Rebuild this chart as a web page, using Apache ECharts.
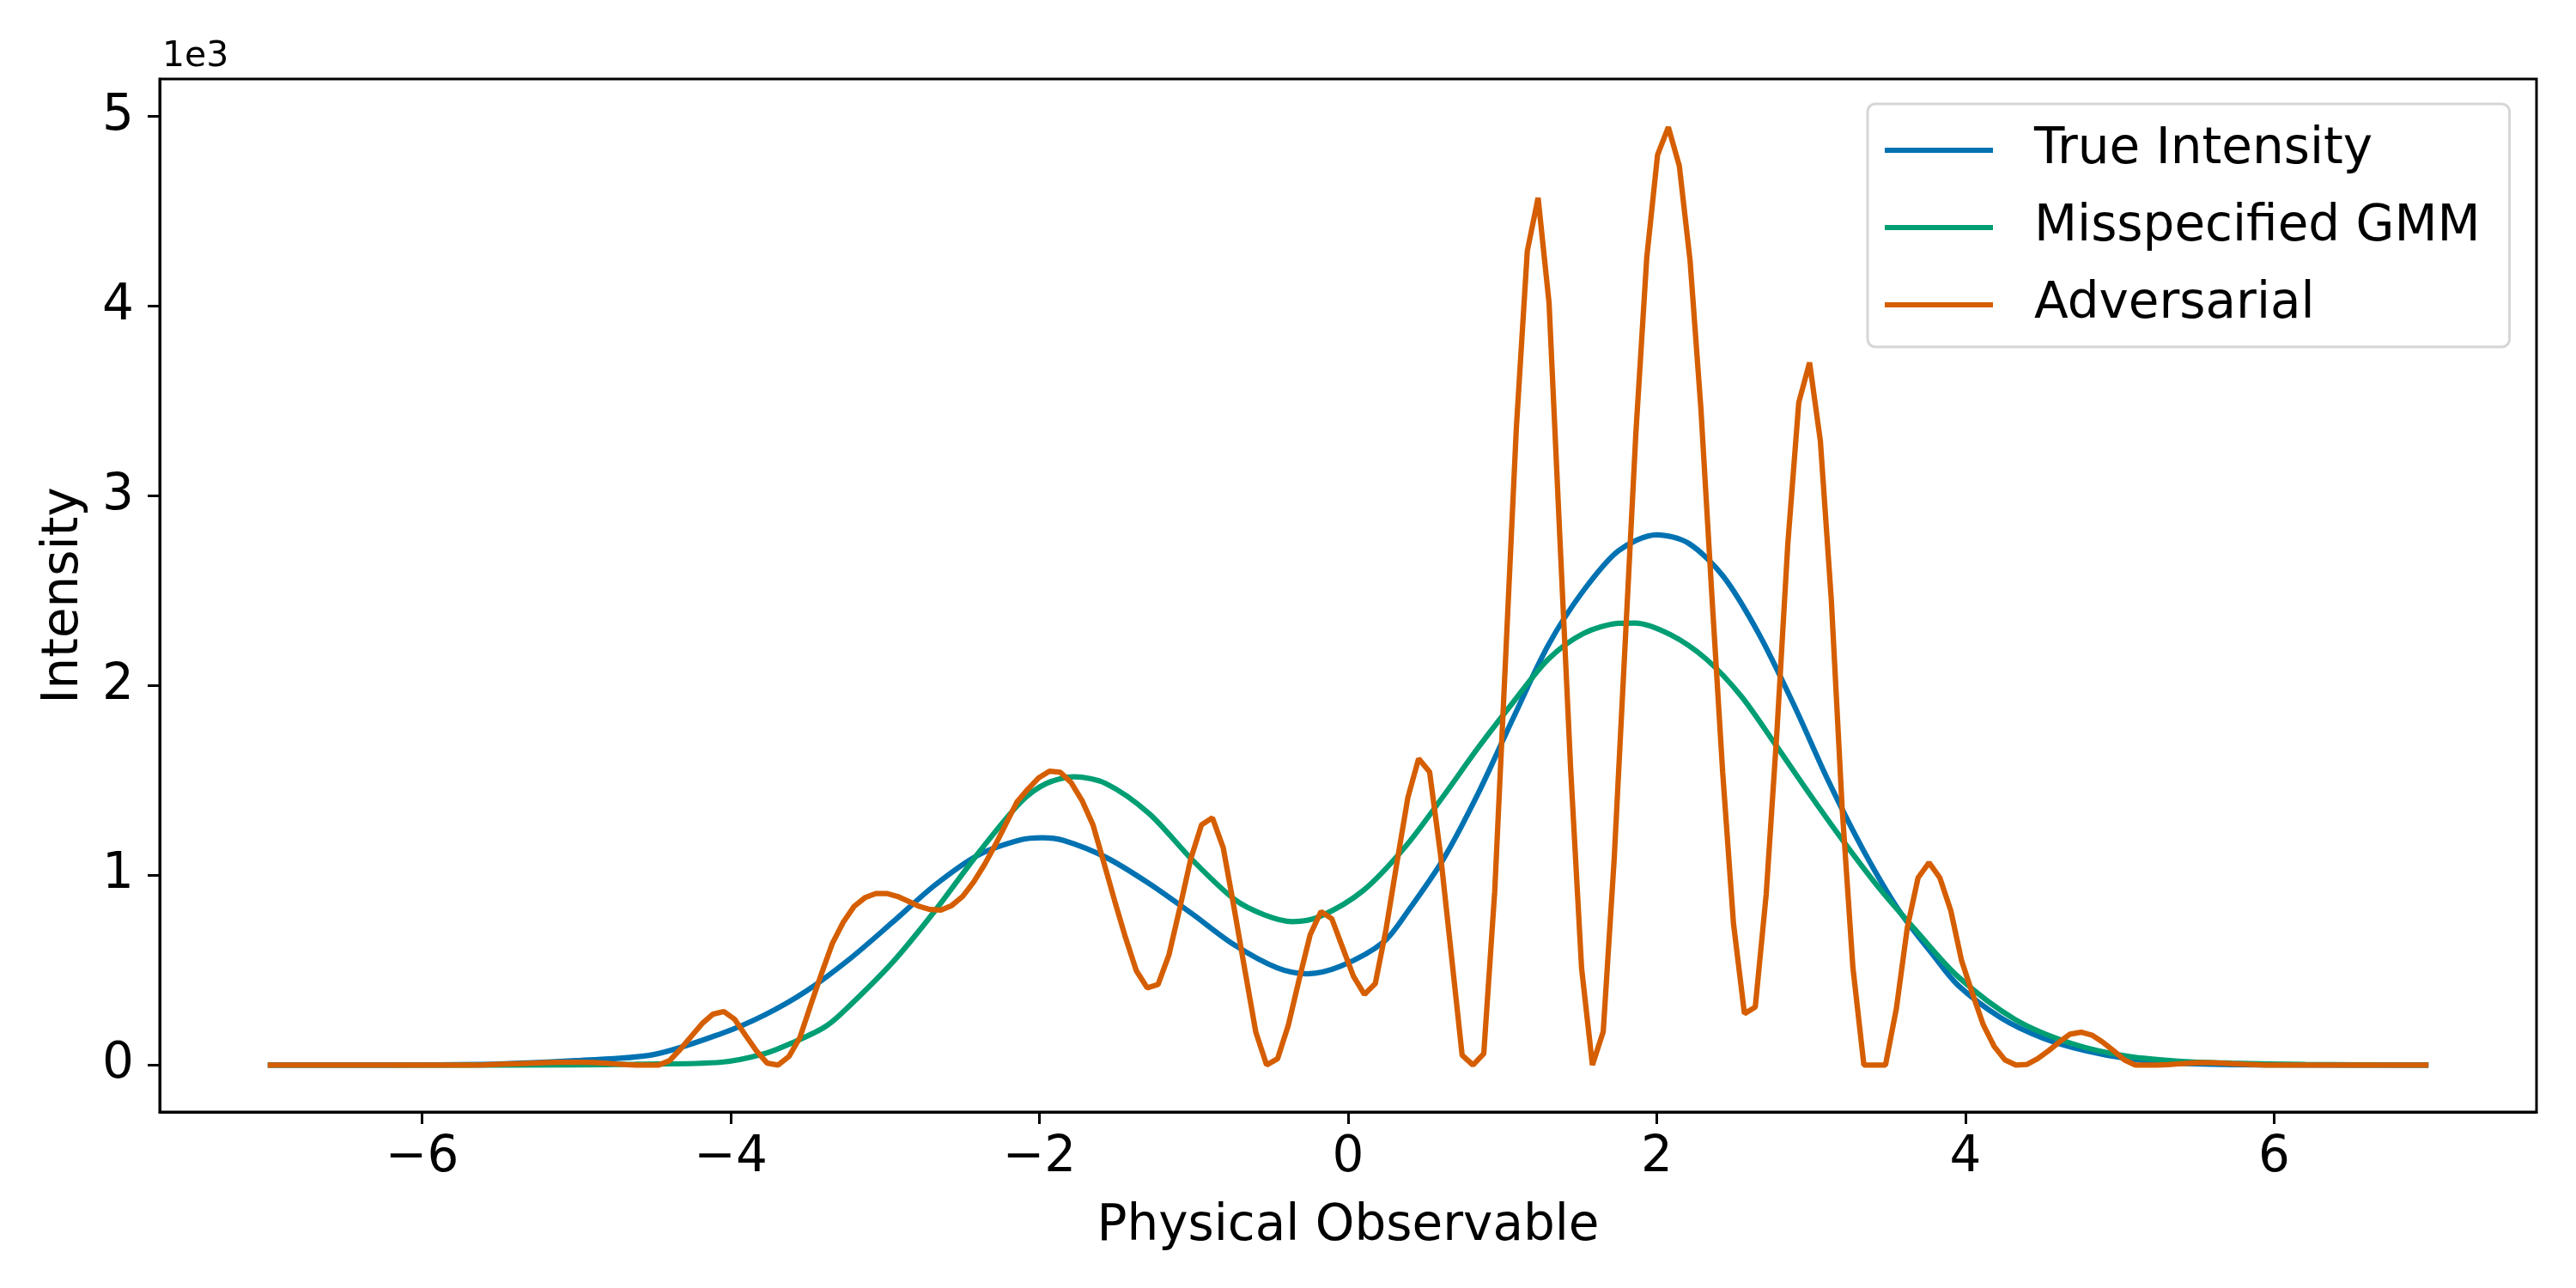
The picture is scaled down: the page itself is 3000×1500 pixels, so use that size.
<!DOCTYPE html>
<html style="height: 100%">
<head>
    <meta charset="utf-8">
</head>
<body style="height: 100%; margin: 0; background: #fff">
<div id="container" style="width: 3000px; height: 1500px"></div>
<script type="text/javascript" src="https://cdn.jsdelivr.net/npm/echarts@6/dist/echarts.min.js"></script>
<script type="text/javascript">
// series names and colours
var seriesNames = ['True Intensity', 'Misspecified GMM', 'Adversarial'];
var seriesColors = ['#0072B2', '#009E73', '#D55E00'];

// tick positions
var xTicks = [-6, -4, -2, 0, 2, 4, 6];
var yTicks = [0, 1000, 2000, 3000, 4000, 5000];

// True Intensity
var trueX = [-7.0, -6.5, -6.0, -5.5, -5.0, -4.5, -4.06, -3.78, -3.51, -3.228, -2.951, -2.676, -2.398, -2.121, -1.983,
    -1.844, -1.57, -1.29, -1.014, -0.737, -0.46, -0.266, -0.044, 0.232, 0.39, 0.617, 0.843, 1.071, 1.298,
    1.525, 1.753, 2.0, 2.206, 2.43, 2.66, 2.888, 3.115, 3.34, 3.57, 3.795, 3.95, 4.23, 4.5, 4.78, 5.06, 5.43, 6.0, 7.0];
var trueY = [0, 0, 1, 5, 23, 55, 166, 264, 390, 560, 753, 949, 1106, 1187, 1198,
    1184, 1095, 957, 799, 633, 512, 481, 522, 650, 814, 1085, 1432, 1831, 2215,
    2501, 2712, 2795, 2750, 2577, 2275, 1899, 1492, 1130, 814, 575, 422, 249, 143, 75, 33, 8, 1, 0];

// Misspecified GMM
var gmmX = [-7, -6, -5, -4.62, -4.06, -3.78, -3.59, -3.4, -3.284, -2.951, -2.676, -2.398, -2.121, -1.955, -1.775,
    -1.57, -1.29, -1.014, -0.737, -0.54, -0.36, -0.18, 0.097, 0.37, 0.617, 0.843, 1.071, 1.298, 1.525, 1.753, 1.86,
    2.09, 2.32, 2.547, 2.77, 3.0, 3.227, 3.455, 3.68, 3.95, 4.32, 4.69, 5.06, 5.43, 5.72, 6.2, 7];
var gmmY = [0, 0, 1, 4, 15, 60, 121, 196, 271, 542, 814, 1115, 1386, 1484, 1519,
    1484, 1326, 1085, 874, 791, 756, 784, 919, 1150, 1417, 1673, 1914, 2140, 2275, 2328, 2330,
    2268, 2140, 1944, 1688, 1417, 1160, 919, 708, 467, 241, 113, 45, 18, 10, 3, 0];

// Adversarial: sampled on 200 points from -7 to 7
var advX = [
    -7.000, -6.930, -6.859, -6.789, -6.719, -6.648, -6.578, -6.508, -6.437, -6.367,
    -6.296, -6.226, -6.156, -6.085, -6.015, -5.945, -5.874, -5.804, -5.734, -5.663,
    -5.593, -5.523, -5.452, -5.382, -5.312, -5.241, -5.171, -5.101, -5.030, -4.960,
    -4.889, -4.819, -4.749, -4.678, -4.608, -4.538, -4.467, -4.397, -4.327, -4.256,
    -4.186, -4.116, -4.045, -3.975, -3.905, -3.834, -3.764, -3.693, -3.623, -3.553,
    -3.482, -3.412, -3.342, -3.271, -3.201, -3.131, -3.060, -2.990, -2.920, -2.849,
    -2.779, -2.709, -2.638, -2.568, -2.497, -2.427, -2.357, -2.286, -2.216, -2.146,
    -2.075, -2.005, -1.935, -1.864, -1.794, -1.724, -1.653, -1.583, -1.513, -1.442,
    -1.372, -1.302, -1.231, -1.161, -1.090, -1.020, -0.950, -0.879, -0.809, -0.739,
    -0.668, -0.598, -0.528, -0.457, -0.387, -0.317, -0.246, -0.176, -0.106, -0.035,
    0.035, 0.106, 0.176, 0.246, 0.317, 0.387, 0.457, 0.528, 0.598, 0.668,
    0.739, 0.809, 0.879, 0.950, 1.020, 1.090, 1.161, 1.231, 1.302, 1.372,
    1.442, 1.513, 1.583, 1.653, 1.724, 1.794, 1.864, 1.935, 2.005, 2.075,
    2.146, 2.216, 2.286, 2.357, 2.427, 2.497, 2.568, 2.638, 2.709, 2.779,
    2.849, 2.920, 2.990, 3.060, 3.131, 3.201, 3.271, 3.342, 3.412, 3.482,
    3.553, 3.623, 3.693, 3.764, 3.834, 3.905, 3.975, 4.045, 4.116, 4.186,
    4.256, 4.327, 4.397, 4.467, 4.538, 4.608, 4.678, 4.749, 4.819, 4.889,
    4.960, 5.030, 5.101, 5.171, 5.241, 5.312, 5.382, 5.452, 5.523, 5.593,
    5.663, 5.734, 5.804, 5.874, 5.945, 6.015, 6.085, 6.156, 6.226, 6.296,
    6.367, 6.437, 6.508, 6.578, 6.648, 6.719, 6.789, 6.859, 6.930, 7.000];
var advY = [
    0, 0, 0, 0, 0, 0, 0, 0, 0, 0,
    0, 0, 0, 0, 0, 0, 0, 0, 0, 0,
    1, 3, 5, 7, 9, 11, 13, 14, 15, 15,
    13, 10, 6, 2, 0, 0, 0, 23, 83, 151,
    218, 268, 282, 241, 158, 75, 10, 0, 45, 143,
    316, 482, 640, 753, 836, 882, 904, 904, 889, 863,
    836, 820, 817, 841, 889, 964, 1055, 1160, 1273, 1386,
    1454, 1514, 1549, 1543, 1488, 1394, 1266, 1068, 867, 671,
    497, 407, 425, 580, 829, 1085, 1266, 1303, 1145, 829,
    497, 173, 0, 33, 211, 452, 686, 809, 772, 618,
    467, 372, 429, 716, 1070, 1409, 1615, 1545, 1115, 588,
    52, 0, 60, 915, 2136, 3357, 4290, 4571, 4018, 2780,
    1560, 509, 0, 176, 1085, 2204, 3323, 4255, 4797, 4943,
    4740, 4238, 3458, 2475, 1542, 746, 271, 305, 900, 1763,
    2746, 3492, 3703, 3289, 2450, 1356, 512, 0, 0, 0,
    301, 723, 987, 1067, 987, 814, 550, 377, 211, 98,
    27, 0, 3, 33, 75, 121, 163, 173, 158, 121,
    75, 27, 0, 0, 0, 2, 6, 10, 12, 12,
    10, 7, 4, 2, 0, 0, 0, 0, 0, 0,
    0, 0, 0, 0, 0, 0, 0, 0, 0, 0];

function pairs(xs, ys) {
    var out = [];
    for (var i = 0; i < xs.length; i++) out.push([xs[i], ys[i]]);
    return out;
}

var FONT = 'DejaVu Sans';
var dom = document.getElementById('container');
var myChart = echarts.init(dom, null, {renderer: 'canvas'});

var option = {
    animation: false,
    backgroundColor: '#ffffff',
    color: seriesColors,
    textStyle: {fontFamily: FONT},
    grid: {
        left: 186, right: 46, top: 92, bottom: 205,
        show: true, borderColor: '#000', borderWidth: 3, backgroundColor: 'transparent'
    },
    legend: {
        orient: 'vertical',
        left: 2175, top: 121,
        padding: [25, 34, 20, 20],
        icon: 'rect',
        itemWidth: 126, itemHeight: 6, itemGap: 32,
        backgroundColor: '#fff',
        borderColor: '#d6d6d6', borderWidth: 3, borderRadius: 9,
        textStyle: {fontSize: 58, fontFamily: FONT, color: '#000', padding: [0, 0, 0, 43], lineHeight: 58},
        data: seriesNames
    },
    graphic: [{
        type: 'text',
        left: 189, top: 46,
        style: {text: '1e3', font: '41px "DejaVu Sans"', fill: '#000'}
    }],
    xAxis: {
        type: 'value',
        min: -7.7, max: 7.7,
        name: 'Physical Observable',
        nameLocation: 'middle', nameGap: 105,
        nameTextStyle: {fontSize: 58, fontFamily: FONT, color: '#000'},
        splitLine: {show: false},
        axisLine: {show: true, onZero: false, lineStyle: {color: '#000', width: 3}},
        axisTick: {show: true, length: 14, lineStyle: {color: '#000', width: 3}, customValues: xTicks},
        axisLabel: {
            fontSize: 58, fontFamily: FONT, color: '#000', margin: 25,
            customValues: xTicks,
            formatter: function (v) { return v < 0 ? '\u2212' + (-v) : String(v); }
        }
    },
    yAxis: {
        type: 'value',
        min: -247.5, max: 5197.5,
        name: 'Intensity',
        nameLocation: 'middle', nameGap: 82,
        nameTextStyle: {fontSize: 58, fontFamily: FONT, color: '#000'},
        splitLine: {show: false},
        axisLine: {show: true, onZero: false, lineStyle: {color: '#000', width: 3}},
        axisTick: {show: true, length: 14, lineStyle: {color: '#000', width: 3}, customValues: yTicks},
        axisLabel: {
            fontSize: 58, fontFamily: FONT, color: '#000', margin: 30,
            customValues: yTicks,
            formatter: function (v) { return String(v / 1000); }
        }
    },
    series: [
        {
            name: seriesNames[0], type: 'line', symbol: 'none', smooth: 0.3,
            lineStyle: {width: 6.25, color: seriesColors[0]},
            data: pairs(trueX, trueY)
        },
        {
            name: seriesNames[1], type: 'line', symbol: 'none', smooth: 0.3,
            lineStyle: {width: 6.25, color: seriesColors[1]},
            data: pairs(gmmX, gmmY)
        },
        {
            name: seriesNames[2], type: 'line', symbol: 'none',
            lineStyle: {width: 6.25, color: seriesColors[2]},
            data: pairs(advX, advY)
        }
    ]
};

myChart.setOption(option, true);
</script>
</body>
</html>
